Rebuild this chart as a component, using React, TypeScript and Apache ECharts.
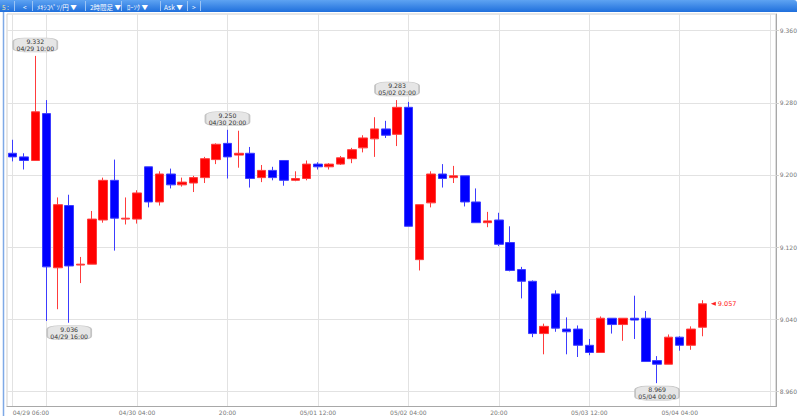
import React, { useEffect, useRef } from "react";
import * as echarts from "echarts";

// ---- data (2-hour candles, MXN/JPY) ----
const opens = [
  9.224, 9.220, 9.216, 9.268, 9.097, 9.166, 9.100, 9.101, 9.150, 9.194,
  9.151, 9.151, 9.209, 9.170, 9.201, 9.189, 9.191, 9.197, 9.217, 9.235,
  9.222, 9.224, 9.197, 9.205, 9.216, 9.194, 9.196, 9.212, 9.209, 9.212,
  9.218, 9.230, 9.240, 9.251, 9.245, 9.275, 9.106, 9.169, 9.201, 9.197,
  9.199, 9.170, 9.147, 9.150, 9.125, 9.095, 9.082, 9.024, 9.068, 9.029,
  9.029, 9.011, 9.003, 9.041, 9.034, 9.041, 9.041, 8.994, 8.990, 9.020,
  9.011, 9.031,
];
const closes = [
  9.220, 9.216, 9.270, 9.098, 9.167, 9.099, 9.101, 9.151, 9.194, 9.152,
  9.152, 9.180, 9.170, 9.201, 9.189, 9.192, 9.197, 9.218, 9.234, 9.220,
  9.224, 9.196, 9.205, 9.197, 9.194, 9.196, 9.212, 9.209, 9.212, 9.219,
  9.228, 9.241, 9.251, 9.244, 9.275, 9.143, 9.167, 9.201, 9.196, 9.199,
  9.170, 9.147, 9.149, 9.123, 9.094, 9.082, 9.024, 9.032, 9.030, 9.026,
  9.011, 9.003, 9.041, 9.034, 9.041, 9.039, 8.993, 8.990, 9.020, 9.011,
  9.029, 9.057,
];
const lows = [
  9.215, 9.206, 9.216, 9.038, 9.051, 9.036, 9.080, 9.101, 9.147, 9.116,
  9.145, 9.146, 9.164, 9.166, 9.185, 9.187, 9.181, 9.191, 9.212, 9.196,
  9.208, 9.186, 9.192, 9.194, 9.188, 9.193, 9.194, 9.206, 9.206, 9.211,
  9.213, 9.225, 9.220, 9.241, 9.232, 9.143, 9.094, 9.164, 9.186, 9.191,
  9.165, 9.147, 9.142, 9.121, 9.093, 9.063, 9.020, 9.001, 9.026, 9.001,
  8.998, 9.000, 9.003, 9.024, 9.016, 9.018, 8.993, 8.969, 8.990, 9.005,
  9.006, 9.021,
];
const highs = [
  9.239, 9.224, 9.332, 9.283, 9.175, 9.178, 9.109, 9.160, 9.197, 9.217,
  9.175, 9.183, 9.209, 9.204, 9.207, 9.197, 9.199, 9.220, 9.235, 9.250,
  9.249, 9.231, 9.211, 9.209, 9.216, 9.204, 9.216, 9.214, 9.213, 9.221,
  9.230, 9.244, 9.264, 9.260, 9.283, 9.281, 9.167, 9.204, 9.212, 9.210,
  9.199, 9.185, 9.159, 9.158, 9.143, 9.098, 9.083, 9.035, 9.072, 9.042,
  9.033, 9.018, 9.043, 9.041, 9.041, 9.066, 9.049, 8.999, 9.023, 9.021,
  9.032, 9.061,
];

// time categories: 2-hour steps from 04/29 06:00 (68 slots incl. empty right margin)
const startMonth = 4, startDay = 29, startHour = 6, stepHours = 2, slotCount = 68;
const pad = (n: number) => String(n).padStart(2, "0");
const categories: string[] = [];
for (let i = 0; i < slotCount; i++) {
  const d = new Date(Date.UTC(2017, startMonth - 1, startDay, startHour + i * stepHours));
  categories.push(`${pad(d.getUTCMonth() + 1)}/${pad(d.getUTCDate())} ${pad(d.getUTCHours())}:00`);
}

const tickIndex = [0, 11, 19, 27, 35, 43, 51, 59];
const tickLabels = ["04/29 06:00", "04/30 04:00", "20:00", "05/01 12:00", "05/02 04:00", "20:00", "05/03 12:00", "05/04 04:00"];
const gridIndex = [0, 3, 11, 19, 27, 35, 43, 51, 59, 67];
const yTicks = [8.96, 9.04, 9.12, 9.2, 9.28, 9.36];

const highMarkIdx = [2, 19, 34];
const lowMarkIdx = [5, 57];

const toolbarItems = [
  { text: "5 :", x: 2, color: "#f3e7a6" },
  { text: "<", x: 23, color: "#ffffff" },
  { text: "ﾒｷｼｺﾍﾟｿ/円 ▼", x: 37, color: "#ffffff" },
  { text: "2時間足 ▼", x: 90, color: "#ffffff" },
  { text: "ﾛｰｿｸ ▼", x: 127, color: "#ffffff" },
  { text: "Ask ▼", x: 164, color: "#ffffff" },
  { text: ">", x: 192, color: "#ffffff" },
];
const toolbarSeps = [14, 32, 85, 121, 160, 187, 200];

export default function App() {
  const ref = useRef<HTMLDivElement>(null);
  useEffect(() => {
    if (!ref.current) return;
    const chart = echarts.init(ref.current, undefined, { renderer: "svg" });
    const candleData = opens.map((o, i) => [o, closes[i], lows[i], highs[i]]);
    const annoFont = { fontFamily: "DejaVu Sans", fontSize: 6.2, color: "#333", lineHeight: 7 };
    const markData: any[] = [];
    highMarkIdx.forEach((i) => {
      markData.push({
        coord: [categories[i], highs[i]],
        symbol: "roundRect",
        symbolSize: [44, 14],
        symbolOffset: [0, -11],
        itemStyle: { color: "#e6e6e6", borderColor: "#c4c4c4", borderWidth: 1 },
        label: { show: true, position: "inside", formatter: `${highs[i].toFixed(3)}\n${categories[i]}`, ...annoFont },
      });
    });
    lowMarkIdx.forEach((i) => {
      markData.push({
        coord: [categories[i], lows[i]],
        symbol: "roundRect",
        symbolSize: [44, 14],
        symbolOffset: [0, 10],
        itemStyle: { color: "#e6e6e6", borderColor: "#c4c4c4", borderWidth: 1 },
        label: { show: true, position: "inside", formatter: `${lows[i].toFixed(3)}\n${categories[i]}`, ...annoFont },
      });
    });
    const last = closes.length - 1;
    markData.push({
      coord: [categories[last], closes[last]],
      symbol: "triangle",
      symbolSize: [4, 5],
      symbolRotate: 90,
      symbolOffset: [11, 0],
      itemStyle: { color: "#ff2020" },
      label: {
        show: true,
        position: "right",
        distance: 2,
        formatter: closes[last].toFixed(3),
        fontFamily: "DejaVu Sans",
        fontSize: 6.5,
        color: "#ff2020",
      },
    });

    const graphic: any[] = [
      {
        type: "rect",
        shape: { x: 0, y: 0, width: 797, height: 12, r: [0, 3, 0, 0] },
        style: {
          fill: new echarts.graphic.LinearGradient(0, 0, 0, 1, [
            { offset: 0, color: "#5ea3f2" },
            { offset: 1, color: "#1f6fdc" },
          ]),
        },
        silent: true,
      },
      {
        type: "line",
        shape: { x1: 3.5, y1: 12, x2: 3.5, y2: 416 },
        style: { stroke: "#7ea9e6", lineWidth: 1.5 },
        silent: true,
      },
    ];
    toolbarSeps.forEach((x) => {
      graphic.push({
        type: "line",
        shape: { x1: x + 0.5, y1: 1, x2: x + 0.5, y2: 11 },
        style: { stroke: "#9cc4f4", lineWidth: 1 },
        silent: true,
      });
    });
    toolbarItems.forEach((t) => {
      graphic.push({
        type: "text",
        x: t.x,
        y: 6.5,
        style: {
          text: t.text,
          fill: t.color,
          font: '6.5px "Noto Sans CJK JP", sans-serif',
          verticalAlign: "middle",
          align: "left",
        },
        silent: true,
      });
    });

    chart.setOption({
      animation: false,
      backgroundColor: "#ffffff",
      grid: {
        left: 7,
        top: 14,
        width: 772,
        height: 392.5,
        show: true,
        borderColor: "#cfcfcf",
        borderWidth: 1,
      },
      xAxis: {
        type: "category",
        data: categories,
        boundaryGap: true,
        axisLine: { show: true, lineStyle: { color: "#a8a8a8", width: 1 } },
        axisTick: { show: false },
        axisLabel: {
          interval: (idx: number) => tickIndex.includes(idx),
          formatter: (_v: string, idx: number) => {
            const k = tickIndex.indexOf(idx);
            return k >= 0 ? tickLabels[k] : "";
          },
          fontFamily: "DejaVu Sans",
          fontSize: 6,
          color: "#777",
          margin: 3,
          alignMinLabel: "left",
        },
        splitLine: {
          show: true,
          interval: (idx: number) => gridIndex.includes(idx),
          alignWithLabel: true,
          lineStyle: { color: "#e2e2e2", width: 1 },
        },
      },
      yAxis: {
        type: "value",
        position: "right",
        scale: true,
        min: 8.9431,
        max: 9.3785,
        axisLine: { show: true, lineStyle: { color: "#a8a8a8", width: 1 } },
        axisTick: { show: true, length: 3, customValues: yTicks, lineStyle: { color: "#cccccc" } },
        axisLabel: {
          customValues: yTicks,
          fontFamily: "DejaVu Sans",
          fontSize: 6,
          color: "#777",
          margin: 4,
          formatter: (v: number) => v.toFixed(3),
        },
        splitLine: { show: true, lineStyle: { color: "#e2e2e2", width: 1 } },
      },
      graphic,
      series: [
        {
          type: "candlestick",
          data: candleData,
          barWidth: 9,
          itemStyle: {
            color: "#ff0000",
            color0: "#0000ff",
            borderColor: "#ff3c3c",
            borderColor0: "#3c3cff",
            borderWidth: 1,
          },
          markPoint: { silent: true, data: markData },
        },
      ],
    });
    return () => chart.dispose();
  }, []);
  return (
    <div
      ref={ref}
      style={{ position: "fixed", left: 0, top: 0, width: 800, height: 416, background: "#fff" }}
    />
  );
}
